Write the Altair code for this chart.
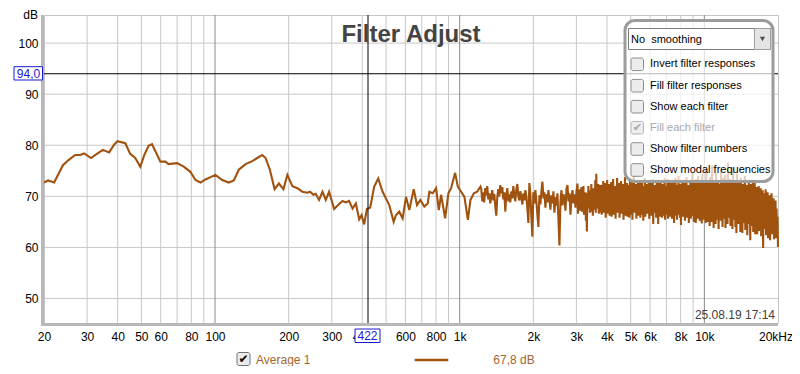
import altair as alt
import pandas as pd
import numpy as np

# ---------------- data ----------------
smooth_freq = [20, 20.8, 22.0, 23.9, 25.2, 26.8, 28.1, 29.2, 31.1, 32.9, 34.8, 36.9, 38.7, 39.9,
               43.0, 45.0, 47.2, 49.5, 51.4, 53.5, 55.3, 57.5, 59.8, 62.7, 64.6, 70.0, 74.5, 79.3,
               83.2, 87.2, 91.4, 100.4, 107.0, 113.8, 119.4, 125.1, 133.3, 142.0, 150.0, 156.0,
               161.0, 167.6, 175.2, 182.5, 190.3, 197.6, 207.1, 217.1, 227.6, 238.6, 244.6, 252.4,
               258.0, 266.2, 275.0, 283.6, 292.6, 306.8, 318.5, 332.0, 342.4, 353.2, 364.8, 376.4,
               388.4, 397.2, 407.0, 417.6, 430.8, 437.6, 447.4, 464.6, 484.2, 499.4, 515.4, 537.2,
               549.0, 566.2, 584.8, 603.4, 622.4, 648.8, 669.2, 690.4, 717.0, 740.4, 751.6, 776.0,
               801.0, 821.6, 839.6, 871.8, 899.4, 922.4, 958.0, 982.8, 1013.8, 1045.8, 1080.0,
               1106.8, 1143.0, 1179.0, 1216.0]
smooth_db = [72.7, 73.1, 72.7, 76.1, 77.1, 78.1, 78.1, 78.4, 77.5, 78.3, 79.1, 78.6, 80.1, 80.8,
             80.4, 78.3, 77.5, 75.8, 78.1, 79.9, 80.2, 78.5, 76.8, 76.8, 76.3, 76.5, 75.8, 74.8,
             73.2, 72.7, 73.3, 74.2, 73.2, 72.7, 73.1, 75.2, 76.3, 76.9, 77.6, 78.1,
             77.5, 75.2, 71.4, 72.5, 71.4, 74.2, 72.0, 71.6, 70.9, 70.7, 70.9, 70.3,
             70.5, 69.3, 70.9, 69.3, 70.9, 67.5, 68.3, 69.1, 68.8, 69.1, 67.6, 68.6,
             65.5, 66.3, 64.5, 67.5, 67.8, 69.5, 71.9, 73.5, 70.9, 69.6, 68.3, 65.0,
             66.3, 67.0, 65.7, 69.9, 67.3, 71.4, 68.3, 69.3, 68.0, 68.6, 70.9, 70.6,
             71.6, 67.3, 70.3, 65.7, 70.6, 71.6, 74.6, 71.9, 70.9, 69.9, 65.4,
             69.3, 70.6, 70.9, 71.9]
# 1.2 kHz .. 3.0 kHz
mid_db = [
    71.5, 69.0, 70.8, 68.8, 71.6, 70.2, 72.0, 69.4, 70.6, 68.6,
    70.0, 71.2, 69.2, 70.5, 68.0, 66.2, 69.8, 71.4, 70.0, 72.2,
    70.6, 71.8, 69.4, 70.8, 67.0, 70.2, 71.6, 69.0, 70.4, 68.8,
    71.0, 69.6, 72.0, 70.2, 69.0, 71.4, 72.4, 70.0, 69.2, 71.0,
    69.8, 68.4, 70.6, 69.2, 71.2, 70.0, 67.6, 64.8, 72.6, 70.4,
    66.0, 62.1, 70.8, 68.6, 71.2, 69.0, 66.4, 64.0, 70.2, 68.4,
    71.0, 72.9, 69.6, 70.8, 67.8, 70.4, 68.8, 71.2, 69.4, 67.4,
    70.2, 68.6, 71.0, 66.8, 69.8, 68.2, 70.6, 65.4, 60.4, 69.0,
    71.2, 68.2, 70.4, 69.6, 67.2, 71.4, 72.2, 69.0, 70.6, 66.4,
    69.8, 71.2, 68.6, 70.4, 67.8, 71.0]
# 3.0 kHz .. 20 kHz
high_db = [
    72.5, 66.6, 70.2, 68.0, 71.4, 67.2, 70.8, 69.0, 71.8, 67.0, 70.4, 68.2, 72.0, 66.4, 69.6, 67.8, 70.8, 65.2, 69.4, 63.1,
    70.6, 67.6, 72.0, 68.2, 71.2, 66.8, 70.4, 68.0, 72.4, 67.0, 69.8, 66.2, 71.6, 67.4, 70.8, 68.2, 73.2, 66.8, 74.4, 67.6,
    71.6, 68.2, 72.4, 66.6, 70.6, 67.8, 72.2, 66.8,
    72.2, 66.4, 71.8, 67.6, 73.0, 66.8, 71.4, 67.2, 72.6, 65.8, 71.0, 67.4, 73.2, 66.6, 70.8, 68.0, 72.4, 66.2, 71.6, 67.0,
    72.8, 66.0, 71.2, 67.8, 73.4, 66.4, 70.6, 67.2, 72.0, 65.6, 71.8, 68.2, 73.6, 66.8, 71.0, 67.4, 72.6, 65.8, 70.8, 67.6,
    73.0, 66.6, 71.6, 67.0, 72.4, 65.4, 71.2, 68.0, 73.8, 66.2, 70.8, 67.4, 72.6, 66.0, 71.4, 67.8, 72.2, 65.8, 73.4, 67.2,
    71.0, 66.4, 72.8, 65.4, 71.6, 67.6, 74.2, 66.8, 70.6, 67.0, 72.4, 65.6, 71.2, 68.0, 73.0, 66.2, 71.8, 67.4, 72.6, 65.8,
    70.8, 67.2, 73.2, 66.4, 71.4, 65.2, 72.0, 67.8, 73.6, 66.0, 71.0, 67.4, 72.4, 66.6, 70.6, 67.8, 73.0, 65.6, 71.8, 67.0,
    72.6, 66.2, 71.2, 67.6, 73.4, 64.6, 70.8, 66.8, 72.2, 67.4, 71.6, 65.8, 73.0, 66.6, 71.4, 64.6, 72.8, 67.2, 70.6, 66.0,
    73.2, 67.0, 71.8, 65.8, 72.4, 67.6, 70.8, 66.2, 73.6, 65.4, 71.2, 67.8, 72.0, 66.4, 73.4, 65.6, 71.6, 67.2, 72.6, 66.0,
    70.8, 67.4, 73.0, 65.6, 71.4, 66.8, 72.8, 64.8, 71.0, 67.6, 73.6, 66.2, 71.8, 65.4, 72.2, 67.0, 74.0, 66.4, 70.6, 65.8,
    72.4, 64.4, 71.2, 67.2, 73.2, 66.0, 70.8, 67.6, 72.6, 65.2, 71.6, 66.8, 73.8, 65.8, 71.0, 67.4, 72.2, 64.8, 70.6, 66.6,
    73.0, 65.6, 71.4, 67.0, 74.6, 66.2, 70.8, 65.0, 72.6, 67.2, 71.2, 64.8, 73.4, 66.4, 72.0, 65.6, 74.0, 67.0, 70.4, 65.2,
    72.8, 66.4, 71.2, 64.7, 74.4, 67.0, 70.6, 65.4, 73.2, 66.2, 71.8, 64.8, 75.4, 66.8, 70.2, 65.0, 72.6, 67.2, 71.0, 64.2,
    73.8, 66.4, 70.8, 65.0, 76.0, 67.0, 71.4, 63.8, 72.8, 66.2, 70.4, 64.6, 74.6, 67.2, 71.2, 65.4, 73.2, 63.6, 70.6, 66.6,
    72.4, 65.2, 75.2, 66.8, 70.8, 64.0, 73.6, 66.0, 71.4, 65.6, 74.2, 63.8, 70.6, 66.4, 72.8, 64.6, 76.6, 65.8, 71.0, 66.2,
    73.4, 64.2, 70.4, 66.0, 72.6, 63.6, 75.6, 65.4, 70.8, 66.6, 73.0, 64.0, 71.6, 62.8, 74.4, 65.8, 70.2, 64.6, 72.8, 66.0,
    71.0, 63.0, 73.6, 65.6, 70.6, 62.8, 72.4, 64.8, 71.2, 66.0, 74.0, 63.4, 70.4, 65.2, 72.2, 62.4, 71.6, 64.6, 73.0, 65.4,
    70.6, 61.4, 72.4, 64.2, 70.0, 65.6, 73.2, 63.0, 71.0, 64.8, 72.6, 62.6, 69.8, 65.0, 71.8, 62.6, 70.4, 64.4, 72.0, 63.2,
    70.2, 64.6, 71.6, 62.2, 69.4, 64.0, 71.2, 59.9, 70.6, 63.6, 68.8, 65.2, 71.4, 62.4, 69.6, 64.0, 70.8, 61.8, 68.6, 63.6,
    70.2, 61.4, 68.8, 64.2, 70.6, 62.6, 67.8, 63.8, 69.6, 61.6, 68.4, 63.4, 69.2, 61.8, 67.6, 62.8, 66.0, 60.1]
mid_freq = list(np.geomspace(1225, 3002, len(mid_db)))
high_freq = list(np.geomspace(3030, 20000, len(high_db)))

minor_grid_freqs = [30, 40, 50, 60, 70, 80, 90, 200, 300, 400, 500, 600, 700, 800, 900,
                    2000, 3000, 4000, 5000, 6000, 7000, 8000, 9000]
decade_freqs = [100, 1000, 10000]
grid_db = [50, 60, 70, 80, 90, 100]
tick_freqs = [20, 30, 40, 50, 60, 80, 100, 200, 300, 400, 600, 800, 1000, 2000, 3000,
              4000, 5000, 6000, 8000, 10000, 20000]
cursor_freq = 422
cursor_db = 94.0
title_text = "Filter Adjust"
option_labels = ["Invert filter responses", "Fill filter responses", "Show each filter",
                 "Fill each filter", "Show filter numbers", "Show modal frequencies"]
option_enabled = [True, True, True, False, True, True]
smoothing_text = "No\u00a0 smoothing"
timestamp = "25.08.19 17:14"
series_name = "Average 1"
series_value = "67,8 dB"

# ---------------- chart ----------------
W, H = 734, 308
CURVE = "#a0520f"
LEG = "#a5652f"
FONT = "Liberation Sans"

curve_df = pd.DataFrame({"freq": smooth_freq + mid_freq + high_freq,
                         "db": smooth_db + mid_db + high_db})

xs = alt.Scale(type="log", domain=[20, 20000], nice=False)
ys = alt.Scale(domain=[45.2, 105.5], nice=False, zero=False)

curve = alt.Chart(curve_df).mark_line(color=CURVE, strokeWidth=2.1).encode(
    x=alt.X("freq:Q", scale=xs, axis=alt.Axis(
        values=tick_freqs, grid=False, ticks=False, domain=False, title=None,
        labelExpr="datum.value >= 20000 ? '20kHz' : (datum.value >= 1000 ? (datum.value/1000) + 'k' : '' + datum.value)",
        labelOffset=alt.condition("datum.value >= 20000", alt.value(-2.5), alt.value(0)),
        labelPadding=8, labelFont=FONT, labelFontSize=12, labelColor="#000000",
        labelOverlap=False, labelFlush=False)),
    y=alt.Y("db:Q", scale=ys, axis=alt.Axis(
        values=grid_db, grid=False, ticks=False, domain=False, title=None,
        labelPadding=6, labelFont=FONT, labelFontSize=12, labelColor="#000000")),
)

minor_v = alt.Chart(pd.DataFrame({"freq": minor_grid_freqs})).mark_rule(
    color="#c8c8c8", strokeWidth=1).encode(x=alt.X("freq:Q", scale=xs))
major_v = alt.Chart(pd.DataFrame({"freq": decade_freqs})).mark_rule(
    color="#8a8a8a", strokeWidth=1).encode(x=alt.X("freq:Q", scale=xs))
hgrid = alt.Chart(pd.DataFrame({"db": grid_db})).mark_rule(
    color="#c8c8c8", strokeWidth=1).encode(y=alt.Y("db:Q", scale=ys))

cur_v = alt.Chart(pd.DataFrame({"freq": [cursor_freq]})).mark_rule(
    color="#000000", strokeWidth=1).encode(x=alt.X("freq:Q", scale=xs))
cur_h = alt.Chart(pd.DataFrame({"db": [cursor_db]})).mark_rule(
    color="#000000", strokeWidth=1).encode(y=alt.Y("db:Q", scale=ys))

layers = [minor_v, hgrid, major_v, curve, cur_v, cur_h]

# frame shading (left & bottom)
layers.append(alt.Chart().mark_rule(color="#b8b8b8", strokeWidth=3).encode(
    x=alt.value(-1.5), y=alt.value(0), y2=alt.value(H + 3)))
layers.append(alt.Chart().mark_rule(color="#b8b8b8", strokeWidth=3).encode(
    x=alt.value(-3), x2=alt.value(W), y=alt.value(H + 1.5)))

# title
layers.append(alt.Chart().mark_text(text=title_text, font=FONT, fontSize=24, fontWeight="bold",
                                    color="#444444", align="center", baseline="alphabetic").encode(
    x=alt.value(367), y=alt.value(27)))
# dB unit label
layers.append(alt.Chart().mark_text(text="dB", font=FONT, fontSize=12, color="#000000",
                                    align="right", baseline="top").encode(
    x=alt.value(-6), y=alt.value(-5)))

# cursor value boxes
layers.append(alt.Chart().mark_rect(fill="white", stroke="#1a1ad0", strokeWidth=1).encode(
    x=alt.value(-30), x2=alt.value(-1.5), y=alt.value(51.7), y2=alt.value(65)))
layers.append(alt.Chart().mark_text(text="94,0", font=FONT, fontSize=12, color="#1a1ad0",
                                    align="center", baseline="middle").encode(
    x=alt.value(-15.5), y=alt.value(58.6)))
layers.append(alt.Chart().mark_rect(fill="white", stroke="#1a1ad0", strokeWidth=1).encode(
    x=alt.value(311), x2=alt.value(336), y=alt.value(314), y2=alt.value(327.5)))
layers.append(alt.Chart().mark_text(text=str(cursor_freq), font=FONT, fontSize=12, color="#1a1ad0",
                                    align="center", baseline="middle").encode(
    x=alt.value(323.5), y=alt.value(321)))

# timestamp
layers.append(alt.Chart().mark_text(text=timestamp, font=FONT, fontSize=12, color="#404040",
                                    align="right", baseline="middle").encode(
    x=alt.value(731), y=alt.value(300)))

# options panel
layers.append(alt.Chart().mark_rect(fill="white", fillOpacity=0.72, stroke="#9c9c9c",
                                    strokeWidth=3, cornerRadius=10).encode(
    x=alt.value(581), x2=alt.value(729), y=alt.value(5.5), y2=alt.value(166.5)))
layers.append(alt.Chart().mark_rect(fill="white", stroke="#7c7c7c", strokeWidth=1).encode(
    x=alt.value(584.5), x2=alt.value(726.5), y=alt.value(13.5), y2=alt.value(34.5)))
layers.append(alt.Chart().mark_rect(fill="#e4e4e4", stroke="#a0a0a0", strokeWidth=1).encode(
    x=alt.value(710.5), x2=alt.value(726.5), y=alt.value(13.5), y2=alt.value(34.5)))
layers.append(alt.Chart().mark_point(shape="triangle-down", filled=True, color="#505050",
                                     size=28, opacity=1).encode(
    x=alt.value(718.5), y=alt.value(24)))
layers.append(alt.Chart().mark_text(text=smoothing_text, font=FONT, fontSize=11, color="#000000",
                                    align="left", baseline="middle").encode(
    x=alt.value(587), y=alt.value(25)))

row_y = [49.3, 70.7, 91.7, 112.7, 134, 155]
for lab, en, yy in zip(option_labels, option_enabled, row_y):
    layers.append(alt.Chart().mark_rect(fill="#ececec", stroke="#8c8c8c" if en else "#b4b4b4",
                                        strokeWidth=1, cornerRadius=2).encode(
        x=alt.value(587), x2=alt.value(599.5), y=alt.value(yy - 6.3), y2=alt.value(yy + 6.3)))
    if not en:
        layers.append(alt.Chart().mark_text(text="\u2714", font="DejaVu Sans", fontSize=11,
                                            color="#a8a8a8", align="center", baseline="middle").encode(
            x=alt.value(593.3), y=alt.value(yy)))
    layers.append(alt.Chart().mark_text(text=lab, font=FONT, fontSize=11,
                                        color="#000000" if en else "#a8a8a8",
                                        align="left", baseline="middle").encode(
        x=alt.value(606), y=alt.value(yy)))

# bottom legend
layers.append(alt.Chart().mark_rect(fill="#ececec", stroke="#707070", strokeWidth=1, cornerRadius=2).encode(
    x=alt.value(193), x2=alt.value(206), y=alt.value(337.5), y2=alt.value(350.5)))
layers.append(alt.Chart().mark_text(text="\u2714", font="DejaVu Sans", fontSize=12, color="#000000",
                                    align="center", baseline="middle").encode(
    x=alt.value(199.5), y=alt.value(344)))
layers.append(alt.Chart().mark_text(text=series_name, font=FONT, fontSize=12, color=LEG,
                                    align="left", baseline="middle").encode(
    x=alt.value(212), y=alt.value(345)))
layers.append(alt.Chart().mark_rule(color=CURVE, strokeWidth=2.5).encode(
    x=alt.value(370.7), x2=alt.value(404.3), y=alt.value(345)))
layers.append(alt.Chart().mark_text(text=series_value, font=FONT, fontSize=12, color=LEG,
                                    align="left", baseline="middle").encode(
    x=alt.value(449.3), y=alt.value(345)))

chart = alt.layer(*layers).properties(
    width=W, height=H,
    autosize=alt.AutoSizeParams(type="none"),
    padding={"left": 36, "top": 7, "right": 14, "bottom": 43},
    background="white",
).configure_view(stroke="#c4c4c4", strokeWidth=1)

chart.save("out.html", embed_options={"renderer": "svg", "actions": False})
